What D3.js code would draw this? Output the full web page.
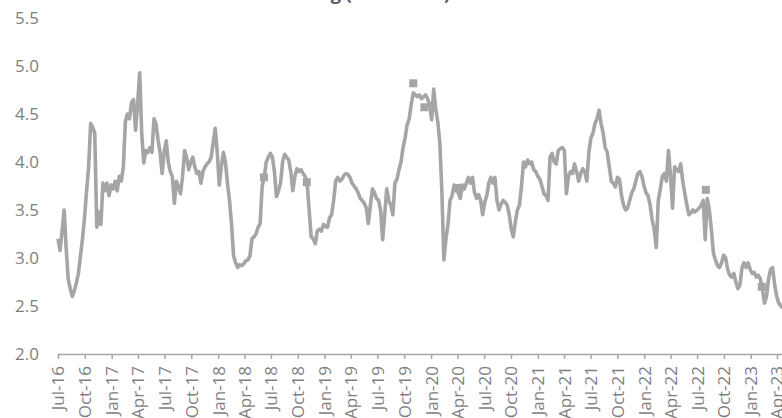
<!DOCTYPE html>
<html>
<head>
<meta charset="utf-8">
<script src="https://cdn.jsdelivr.net/npm/d3@7"></script>
<style>
  html, body { margin: 0; padding: 0; background: #ffffff; }
  svg { display: block; }
  text { font-family: "Open Sans", "Liberation Sans", sans-serif; }
</style>
</head>
<body>
<svg id="chart" width="782" height="418"></svg>
<script>
// Weekly trailing dividend yield (%), first reading on 1 Jul 2016
const seriesStart = "2016-07-01";
const weeklyYield = [
  3.2, 3.08, 3.28, 3.5, 3.1, 2.78, 2.68, 2.6, 2.66, 2.74,
  2.84, 3.02, 3.2, 3.42, 3.7, 3.95, 4.4, 4.36, 4.3, 3.32,
  3.48, 3.35, 3.78, 3.7, 3.78, 3.65, 3.76, 3.72, 3.8, 3.7,
  3.85, 3.8, 3.95, 4.42, 4.5, 4.45, 4.62, 4.65, 4.33, 4.6,
  4.93, 4.3, 3.99, 4.12, 4.1, 4.15, 4.1, 4.45, 4.4, 4.23,
  4.1, 3.88, 4.1, 4.22, 4.0, 3.9, 3.85, 3.57, 3.8, 3.74,
  3.67, 3.85, 4.12, 4.05, 3.92, 4.0, 4.05, 3.95, 3.88, 3.9,
  3.78, 3.9, 3.95, 3.98, 4.0, 4.05, 4.2, 4.35, 4.1, 3.76,
  3.95, 4.1, 4.0, 3.78, 3.6, 3.35, 3.02, 2.95, 2.9, 2.93,
  2.92, 2.94, 2.97, 2.98, 3.02, 3.2, 3.22, 3.25, 3.32, 3.36,
  3.75, 3.84, 4.0, 4.05, 4.09, 4.05, 3.9, 3.64, 3.7, 3.78,
  4.0, 4.08, 4.05, 4.02, 3.9, 3.7, 3.85, 3.93, 3.9, 3.92,
  3.88, 3.85, 3.79, 3.5, 3.22, 3.2, 3.15, 3.28, 3.3, 3.28,
  3.35, 3.33, 3.32, 3.42, 3.45, 3.6, 3.8, 3.84, 3.8, 3.82,
  3.86, 3.88, 3.87, 3.84, 3.78, 3.75, 3.72, 3.68, 3.62, 3.6,
  3.57, 3.52, 3.36, 3.55, 3.72, 3.68, 3.62, 3.6, 3.5, 3.19,
  3.45, 3.72, 3.6, 3.55, 3.45, 3.78, 3.82, 3.92, 4.0, 4.15,
  4.25, 4.39, 4.45, 4.6, 4.72, 4.7, 4.68, 4.7, 4.66, 4.68,
  4.7, 4.66, 4.6, 4.44, 4.76, 4.55, 4.42, 4.2, 3.7, 2.98,
  3.2, 3.35, 3.6, 3.65, 3.76, 3.7, 3.68, 3.62, 3.76, 3.72,
  3.78, 3.84, 3.78, 3.84, 3.68, 3.62, 3.66, 3.6, 3.45, 3.58,
  3.65, 3.78, 3.84, 3.78, 3.84, 3.6, 3.5, 3.56, 3.6, 3.58,
  3.55, 3.45, 3.3, 3.22, 3.38, 3.5, 3.55, 3.75, 4.0, 3.95,
  4.02, 3.98, 4.0, 3.92, 3.9, 3.85, 3.82, 3.75, 3.67, 3.65,
  3.6, 4.05, 4.09, 4.0, 3.98, 4.12, 4.14, 4.15, 4.12, 3.67,
  3.85, 3.9, 3.88, 3.98, 3.9, 3.8, 3.88, 3.93, 3.9, 3.8,
  4.1, 4.25, 4.3, 4.4, 4.45, 4.54, 4.4, 4.3, 4.15, 4.1,
  3.95, 3.8, 3.78, 3.74, 3.84, 3.82, 3.65, 3.55, 3.5, 3.52,
  3.6, 3.68, 3.72, 3.8, 3.88, 3.9, 3.85, 3.75, 3.68, 3.65,
  3.55, 3.4, 3.3, 3.11, 3.6, 3.72, 3.85, 3.88, 3.8, 4.12,
  3.85, 3.52, 3.95, 3.92, 3.9, 3.98, 3.8, 3.67, 3.55, 3.45,
  3.47, 3.5, 3.48, 3.5, 3.52, 3.55, 3.6, 3.19, 3.62, 3.5,
  3.3, 3.05, 2.98, 2.92, 2.9, 2.95, 3.03, 3.0, 2.88, 2.82,
  2.8, 2.84, 2.75, 2.68, 2.72, 2.9, 2.95, 2.9, 2.95, 2.88,
  2.84, 2.85, 2.8, 2.82, 2.78, 2.68, 2.53, 2.6, 2.78, 2.88,
  2.9, 2.72, 2.6, 2.53, 2.5, 2.48
];

// Highlighted readings
const markerDates = ["2018-06-07", "2018-11-01", "2019-11-01", "2019-12-09", "2020-04-07", "2022-07-31", "2023-02-08"];
const markerValues = [3.84, 3.79, 4.82, 4.57, 3.73, 3.71, 2.70];

// Axis ticks
const yTicks = [2.0, 2.5, 3.0, 3.5, 4.0, 4.5, 5.0, 5.5];
const xTickStart = "2016-07-01";
const xTickEnd = "2023-04-01";

const titleText = "Dividend Yield Trailing (In Percent)";

const parse = d3.timeParse("%Y-%m-%d");
const startDate = parse(seriesStart);
const series = weeklyYield.map((v, i) => ({ date: d3.timeDay.offset(startDate, 7 * i), value: v }));
const markers = markerDates.map((d, i) => ({ date: parse(d), value: markerValues[i] }));

const W = 782, H = 418;
const svg = d3.select("#chart");

const x = d3.scaleTime()
  .domain([parse(xTickStart), parse(xTickEnd)])
  .range([58, 777]);
const y = d3.scaleLinear()
  .domain([2.0, 5.5])
  .range([354, 18]);

const lineColor = "#a5a5a5";
const textColor = "#7f7f7f";
const axisColor = "#a6a6a6";

// Title (sits at the very top edge)
svg.append("text")
  .attr("x", 450)
  .attr("y", 0)
  .attr("text-anchor", "end")
  .attr("font-size", 18)
  .attr("font-weight", 700)
  .attr("fill", "#595959")
  .text(titleText);

// Y axis labels (no axis line)
const yAxis = d3.axisLeft(y)
  .tickValues(yTicks)
  .tickFormat(d3.format(".1f"))
  .tickSize(0)
  .tickPadding(0);
const gy = svg.append("g").attr("transform", "translate(39,0)").call(yAxis);
gy.select(".domain").remove();
gy.selectAll("text")
  .attr("fill", textColor)
  .attr("font-size", 17)
  .attr("font-family", "'Open Sans', sans-serif");

// X axis: quarterly ticks, rotated labels
const xTicks = d3.timeMonth.every(3).range(parse(xTickStart), d3.timeDay.offset(parse(xTickEnd), 1));
const xAxis = d3.axisBottom(x)
  .tickValues(xTicks)
  .tickFormat(d3.timeFormat("%b-%y"))
  .tickSize(5)
  .tickSizeOuter(0);
const gx = svg.append("g").attr("transform", `translate(0,${y(2.0)})`).call(xAxis);
gx.select(".domain").remove();
gx.append("line")
  .attr("x1", x(parse(xTickStart)))
  .attr("x2", W)
  .attr("y1", 0.5).attr("y2", 0.5)
  .attr("stroke", axisColor)
  .attr("stroke-width", 1.5);
gx.selectAll(".tick line").attr("stroke", axisColor).attr("stroke-width", 1.5);
gx.selectAll(".tick text")
  .attr("fill", textColor)
  .attr("font-size", 17)
  .attr("font-family", "'Open Sans', sans-serif")
  .attr("text-anchor", "end")
  .attr("transform", "rotate(-90)")
  .attr("x", -12)
  .attr("y", 0)
  .attr("dy", "0.35em");

// Yield line
const line = d3.line()
  .x(d => x(d.date))
  .y(d => y(d.value));
svg.append("path")
  .datum(series)
  .attr("fill", "none")
  .attr("stroke", lineColor)
  .attr("stroke-width", 3.6)
  .attr("stroke-linejoin", "round")
  .attr("d", line);

// Square markers
const ms = 8;
svg.append("g").selectAll("rect")
  .data(markers)
  .join("rect")
  .attr("x", d => x(d.date) - ms / 2)
  .attr("y", d => y(d.value) - ms / 2)
  .attr("width", ms)
  .attr("height", ms)
  .attr("fill", lineColor);
</script>
</body>
</html>
